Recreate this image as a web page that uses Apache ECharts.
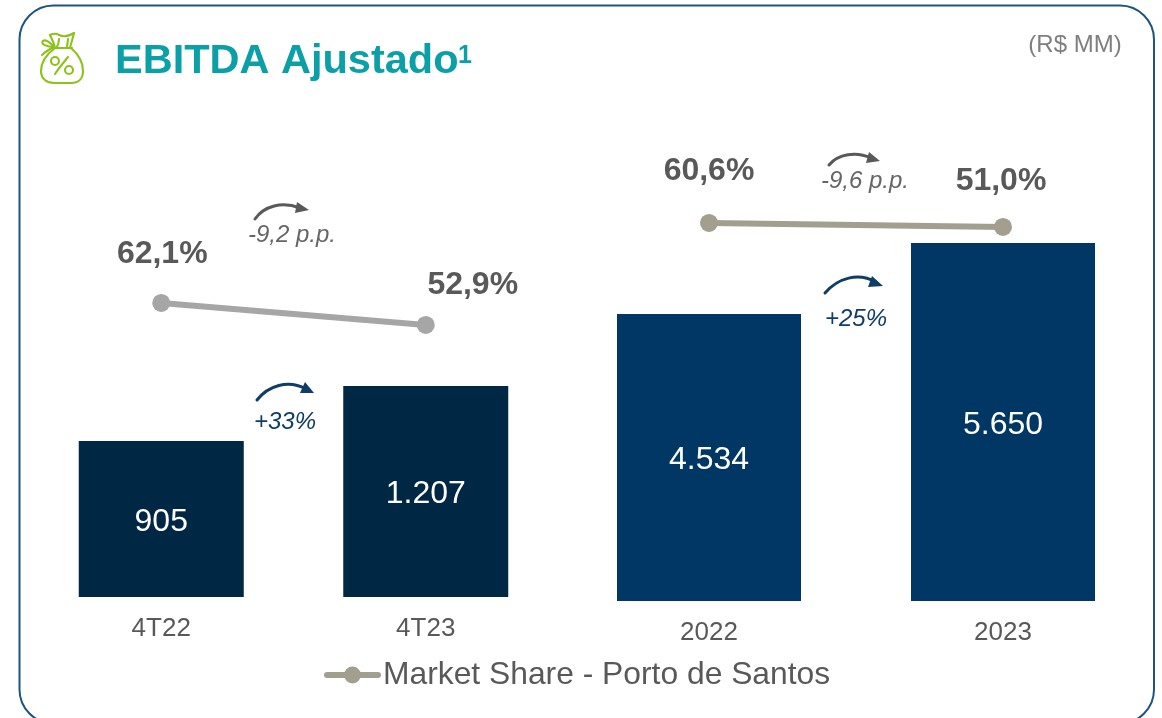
<!DOCTYPE html>
<html>
<head>
<meta charset="utf-8">
<style>html,body{margin:0;padding:0;background:#fff}#c{width:1162px;height:718px}</style>
<script src="https://cdn.jsdelivr.net/npm/echarts@6/dist/echarts.min.js"></script>
</head>
<body>
<div id="c"></div>
<script>
const quarterCategories = ['4T22', '4T23'];
const quarterEbitda = [905, 1207];
const quarterShare = [62.1, 52.9];
const yearCategories = ['2022', '2023'];
const yearEbitda = [4534, 5650];
const yearShare = [60.6, 51.0];
const legendName = 'Market Share - Porto de Santos';
const titleText = 'EBITDA Ajustado';
const unitText = '(R$ MM)';
const quarterShareDelta = '-9,2 p.p.';
const quarterGrowth = '+33%';
const yearShareDelta = '-9,6 p.p.';
const yearGrowth = '+25%';

const font = '"Liberation Sans", Arial, sans-serif';
const grey = '#595959';
const navy = '#0F3D66';
const pct = v => v.toFixed(1).replace('.', ',') + '%';
const thousand = v => v >= 1000 ? String(v).replace(/(\d)(\d{3})$/, '$1.$2') : String(v);

function barSeries(name, data, axis, color, width) {
  return {
    type: 'bar', name, xAxisIndex: axis, yAxisIndex: axis * 2, data, barWidth: width,
    itemStyle: { color }, z: 2,
    label: { show: true, position: 'inside', offset: [0, 3], formatter: p => thousand(p.value),
      color: '#fff', fontFamily: font, fontSize: 32 }
  };
}
function lineSeries(data, axis, color, offsets) {
  return {
    type: 'line', name: legendName, xAxisIndex: axis, yAxisIndex: axis * 2 + 1,
    data: data.map((v, i) => ({ value: v, label: { offset: offsets[i] } })),
    symbol: 'circle', symbolSize: 18, showSymbol: true,
    lineStyle: { color, width: 6, cap: 'round' }, itemStyle: { color }, z: 5,
    label: { show: true, position: 'inside', formatter: p => pct(p.value),
      color: grey, fontFamily: font, fontSize: 32, fontWeight: 'bold' }
  };
}
function cat(data, grid, margin) {
  return { type: 'category', gridIndex: grid, data,
    axisLine: { show: false }, axisTick: { show: false },
    axisLabel: { color: grey, fontFamily: font, fontSize: 26, margin } };
}
function val(grid, min, max) {
  return { type: 'value', gridIndex: grid, min, max, show: false, splitLine: { show: false } };
}
function curve(p, style) {
  return { type: 'bezierCurve', silent: true, z: 10,
    shape: { x1: p[0], y1: p[1], cpx1: p[2], cpy1: p[3], cpx2: p[4], cpy2: p[5], x2: p[6], y2: p[7] },
    style: Object.assign({ fill: 'none', lineCap: 'round' }, style) };
}
function arrow(c, head, color) {
  return [
    curve(c, { stroke: color, lineWidth: 3 }),
    { type: 'polygon', shape: { points: head }, style: { fill: color }, silent: true, z: 10 }
  ];
}
function txt(x, y, text, fontSize, fill, extra) {
  return { type: 'text', x, y, silent: true, z: 10,
    style: Object.assign({ text, fontSize, fontFamily: font, fill, align: 'center', verticalAlign: 'middle' }, extra || {}) };
}
const sackColor = '#8CC21A';
const sackStroke = { stroke: sackColor, lineWidth: 2.1 };
const sackCurves = [
  [55,48, 47,54, 41,62, 41,71], [41,71, 41,79, 47,83, 54,83], [54,83, 60,83, 66,83, 71,83],
  [71,83, 78,83, 83,79, 83,71], [83,71, 83,62, 78,54, 71,48], [53,48, 59,48, 66,48, 72,48],
  [55,48, 54,43, 52,39, 50,35], [50,35, 54,33, 56,33, 59,35], [59,35, 63,37, 69,36, 74,33], [74,33, 73,38, 71,43, 70,48],
  [59,39, 59,42, 58,45, 57,47], [68,39, 68,42, 67,45, 67,47],
  [54,47, 50,42, 45,39, 43,41], [43,41, 40,44, 47,47, 54,47], [54,47, 50,49, 45,52, 42,55],
  [68,57, 64,62, 59,68, 55,74]
];

const chart = echarts.init(document.getElementById('c'), null, { renderer: 'canvas' });
chart.setOption({
  animation: false,
  backgroundColor: '#fff',
  grid: [
    { left: 29, width: 529, top: 100, bottom: 121 },
    { left: 562, width: 588, top: 100, bottom: 117 }
  ],
  xAxis: [cat(quarterCategories, 0, 19), cat(yearCategories, 1, 19)],
  yAxis: [val(0, 48, 2778), val(0, -60.9, 147), val(1, 22, 7900), val(1, -846.6, 355.7)],
  legend: {
    left: 324, top: 659, itemWidth: 51, itemHeight: 21, itemGap: 0, padding: 0,
    data: [{ name: legendName }],
    textStyle: { color: grey, fontFamily: font, fontSize: 31.8 },
    itemStyle: { color: '#A39F8E' }, lineStyle: { color: '#A39F8E', width: 6 },
    selectedMode: false
  },
  series: [
    lineSeries(yearShare, 1, '#A39F8E', [[0, -52], [-2, -46]]),
    lineSeries(quarterShare, 0, '#A6A6A6', [[1, -49], [47, -40]]),
    barSeries('EBITDA 4T', quarterEbitda, 0, '#002744', 165),
    barSeries('EBITDA Ano', yearEbitda, 1, '#003764', 184)
  ],
  graphic: [
    { type: 'rect', shape: { x: 19.5, y: 5.5, width: 1134.5, height: 718, r: 34 },
      style: { fill: 'none', stroke: '#1D5480', lineWidth: 2 }, silent: true, z: 1 },
    txt(115, 62, titleText, 41.5, '#0B9FA8', { fontWeight: 'bold', align: 'left' }),
    txt(458, 56, '1', 25, '#0B9FA8', { fontWeight: 'bold', align: 'left' }),
    txt(1075, 45, unitText, 24, '#7F7F7F'),
    txt(292, 235, quarterShareDelta, 24, '#666666', { fontStyle: 'italic' }),
    txt(865, 181, yearShareDelta, 24, '#666666', { fontStyle: 'italic' }),
    txt(285, 422, quarterGrowth, 24, navy, { fontStyle: 'italic' }),
    txt(856, 319, yearGrowth, 24, navy, { fontStyle: 'italic' }),
    ...arrow([255,219, 264,206, 282,201, 300,208], [[297,202],[309,210],[295,213]], '#595959'),
    ...arrow([829,165, 838,154, 856,151, 871,158], [[869,152],[880,161],[866,163]], '#595959'),
    ...arrow([257,400, 268,386, 288,379, 306,389], [[305,382],[314,393],[300,393]], navy),
    ...arrow([825,293, 838,278, 858,272, 876,282], [[872,276],[883,286],[868,287]], navy),
    ...sackCurves.map(c => curve(c, sackStroke)),
    { type: 'circle', shape: { cx: 55, cy: 61, r: 4 }, style: Object.assign({ fill: 'none' }, sackStroke), silent: true, z: 10 },
    { type: 'circle', shape: { cx: 69, cy: 70, r: 4 }, style: Object.assign({ fill: 'none' }, sackStroke), silent: true, z: 10 }
  ]
});
</script>
</body>
</html>
